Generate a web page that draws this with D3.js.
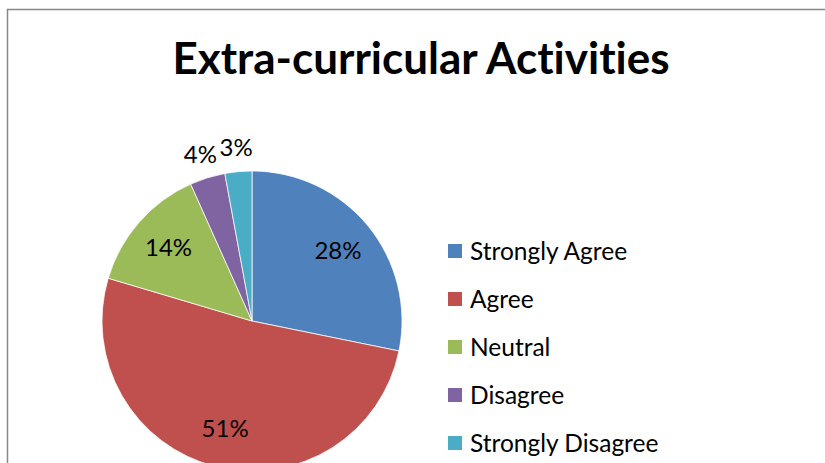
<!DOCTYPE html>
<html>
<head>
<meta charset="utf-8">
<script src="https://cdn.jsdelivr.net/npm/d3@7"></script>
<style>
  body { margin: 0; background: #fff; }
  text { font-family: Lato, "Open Sans", sans-serif; font-variant-ligatures: none; }
</style>
</head>
<body>
<div id="chart"></div>
<script>
// chart data
var titleText = "Extra-curricular Activities";
var categories = ["Strongly Agree", "Agree", "Neutral", "Disagree", "Strongly Disagree"];
var values = [28.2, 51.4, 13.7, 3.8, 2.9];
var colors = ["#4F81BD", "#C0504D", "#9BBB59", "#8064A2", "#4BACC6"];

var svgWidth = 825;
var svgHeight = 463;

var svg = d3.select("#chart")
  .append("svg")
  .attr("width", svgWidth)
  .attr("height", svgHeight);

// chart frame (runs off the right and bottom edges)
svg.append("rect")
  .attr("x", 7.5)
  .attr("y", 9.5)
  .attr("width", 900)
  .attr("height", 600)
  .attr("fill", "none")
  .attr("stroke", "#878787")
  .attr("stroke-width", 1.5);

// title
svg.append("text")
  .attr("x", 421)
  .attr("y", 74)
  .attr("text-anchor", "middle")
  .attr("font-weight", "bold")
  .attr("font-size", 44)
  .attr("fill", "#000")
  .text(titleText);

var radius = 150;
var pieGroup = svg.append("g")
  .attr("transform", "translate(252, 321)");

var pie = d3.pie().sort(null).value(d => d.value);
var arcs = pie(categories.map((c, i) => ({ name: c, value: values[i], color: colors[i] })));

var arc = d3.arc().innerRadius(0).outerRadius(radius);
var labelArcIn = d3.arc().innerRadius(radius * 0.74).outerRadius(radius * 0.74);
var labelArcOut = d3.arc().innerRadius(radius * 1.16).outerRadius(radius * 1.16);

pieGroup.selectAll("path")
  .data(arcs)
  .enter()
  .append("path")
  .attr("d", arc)
  .attr("fill", d => d.data.color)
  .attr("stroke", "#fff")
  .attr("stroke-width", 0.75);

var total = d3.sum(values);
pieGroup.selectAll("text.label")
  .data(arcs)
  .enter()
  .append("text")
  .attr("class", "label")
  .attr("transform", function (d) {
    var c = (d.data.value / total < 0.05 ? labelArcOut : labelArcIn).centroid(d);
    return "translate(" + c[0] + "," + c[1] + ")";
  })
  .attr("text-anchor", "middle")
  .attr("dy", "0.36em")
  .attr("font-size", 24)
  .attr("fill", "#000")
  .text(d => Math.round(d.data.value / total * 100) + "%");

// legend
var legend = svg.append("g")
  .attr("transform", "translate(448, 251)");

var items = legend.selectAll("g")
  .data(categories)
  .enter()
  .append("g")
  .attr("transform", (d, i) => "translate(0," + (i * 48) + ")");

items.append("rect")
  .attr("x", 0)
  .attr("y", -7)
  .attr("width", 14)
  .attr("height", 14)
  .attr("fill", (d, i) => colors[i]);

items.append("text")
  .attr("x", 22)
  .attr("dy", "0.36em")
  .attr("font-size", 24.5)
  .attr("fill", "#000")
  .text(d => d);
</script>
</body>
</html>
